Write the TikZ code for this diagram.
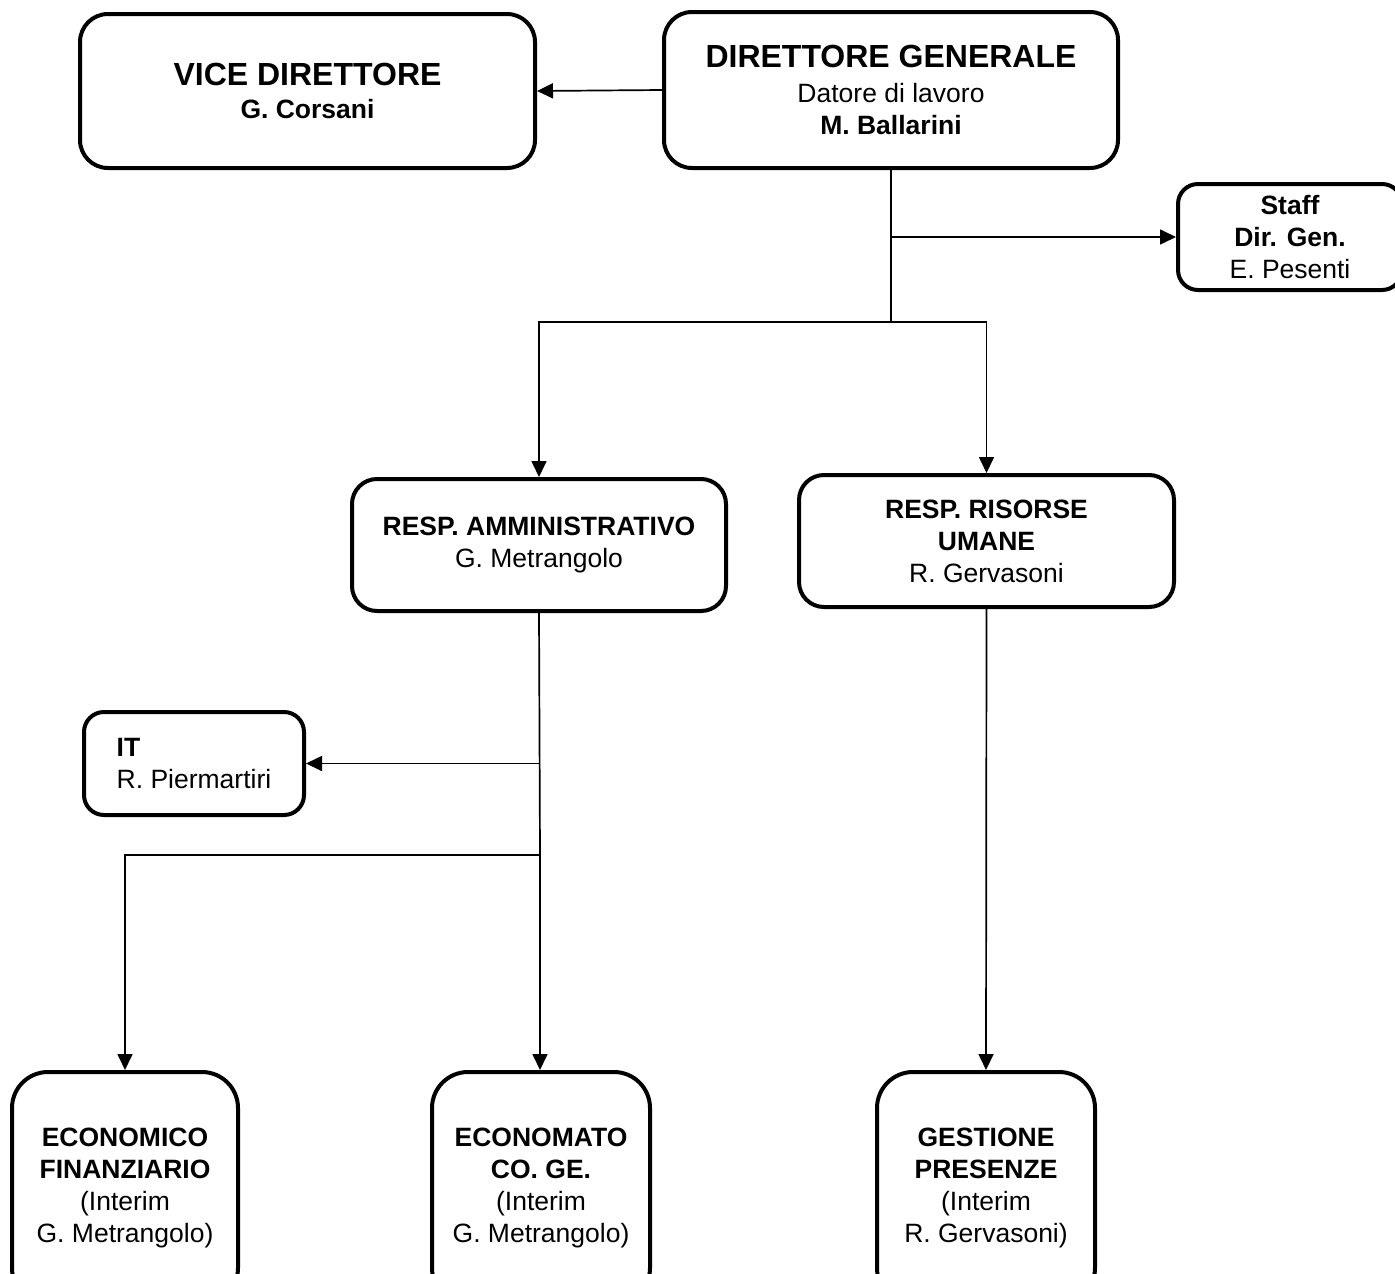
\documentclass[tikz,border=0pt]{standalone}
\usepackage{fontspec}
\setmainfont{Liberation Sans}
\usetikzlibrary{arrows.meta,positioning}

\tikzset{
  box/.style={draw=black, fill=white, line width=4pt, rounded corners=25pt,
    align=center, inner sep=0pt, font=\fontsize{26.5}{32}\selectfont},
  conn/.style={line width=1.7pt},
  arr/.style={conn, -{Triangle[length=16pt,width=15pt]}},
}
\newcommand{\bigtitle}[1]{{\fontsize{32}{36}\selectfont\bfseries #1}}

\begin{document}
\begin{tikzpicture}[x=1pt,y=-1pt]
\useasboundingbox (0,0) rectangle (1395,1274);

% vertici
\node[box, minimum width=455pt, minimum height=154pt, rounded corners=28pt] (vice) at (307.5,91)
  {\bigtitle{VICE DIRETTORE}\\[1pt] \textbf{G. Corsani}};
\node[box, minimum width=454pt, minimum height=156pt, rounded corners=28pt] (dg) at (891,90)
  {\bigtitle{DIRETTORE GENERALE}\\[3pt] Datore di lavoro\\ \textbf{M. Ballarini}};
\node[box, minimum width=224pt, minimum height=106pt, rounded corners=20pt] (staff) at (1290,237)
  {\textbf{Staff}\\ \textbf{Dir. Gen.}\\ E. Pesenti};

% responsabili
\node[box, minimum width=374pt, minimum height=132pt] (amm) at (539,545)
  {\textbf{RESP. AMMINISTRATIVO}\\ G. Metrangolo};
\node[box, minimum width=375pt, minimum height=132pt] (ru) at (986.5,541)
  {\textbf{RESP. RISORSE}\\ \textbf{UMANE}\\ R. Gervasoni};
\node[box, minimum width=220pt, minimum height=103pt, rounded corners=20pt, align=left] (it) at (194,763.5)
  {\textbf{IT}\\ R. Piermartiri};

% uffici
\node[box, minimum width=226pt, minimum height=232pt, rounded corners=36pt] (ecf) at (125,1188)
  {\textbf{ECONOMICO}\\ \textbf{FINANZIARIO}\\ (Interim\\ G. Metrangolo)};
\node[box, minimum width=218pt, minimum height=232pt, rounded corners=36pt] (eco) at (541,1188)
  {\textbf{ECONOMATO}\\ \textbf{CO. GE.}\\ (Interim\\ G. Metrangolo)};
\node[box, minimum width=218pt, minimum height=232pt, rounded corners=36pt] (ges) at (986,1188)
  {\textbf{GESTIONE}\\ \textbf{PRESENZE}\\ (Interim\\ R. Gervasoni)};

% collegamenti
\coordinate (hubdg) at (891,322);
\coordinate (hubamm) at (540,855);
\draw[arr] (dg.west) -- (vice.east);
\draw[conn] (dg.south) -- (hubdg);
\draw[arr] (dg.south |- staff.west) -- (staff.west);
\draw[arr] (hubdg) -| (amm.north);
\draw[arr] (hubdg) -| (ru.north);
\draw[conn] (amm.south) -- (hubamm);
\draw[arr] (amm.south |- it.east) -- (it.east);
\draw[arr] (hubamm) -| (ecf.north);
\draw[arr] (hubamm) -- (hubamm |- eco.north);
\draw[arr] (ru.south) -- (ges.north);

\end{tikzpicture}
\end{document}
